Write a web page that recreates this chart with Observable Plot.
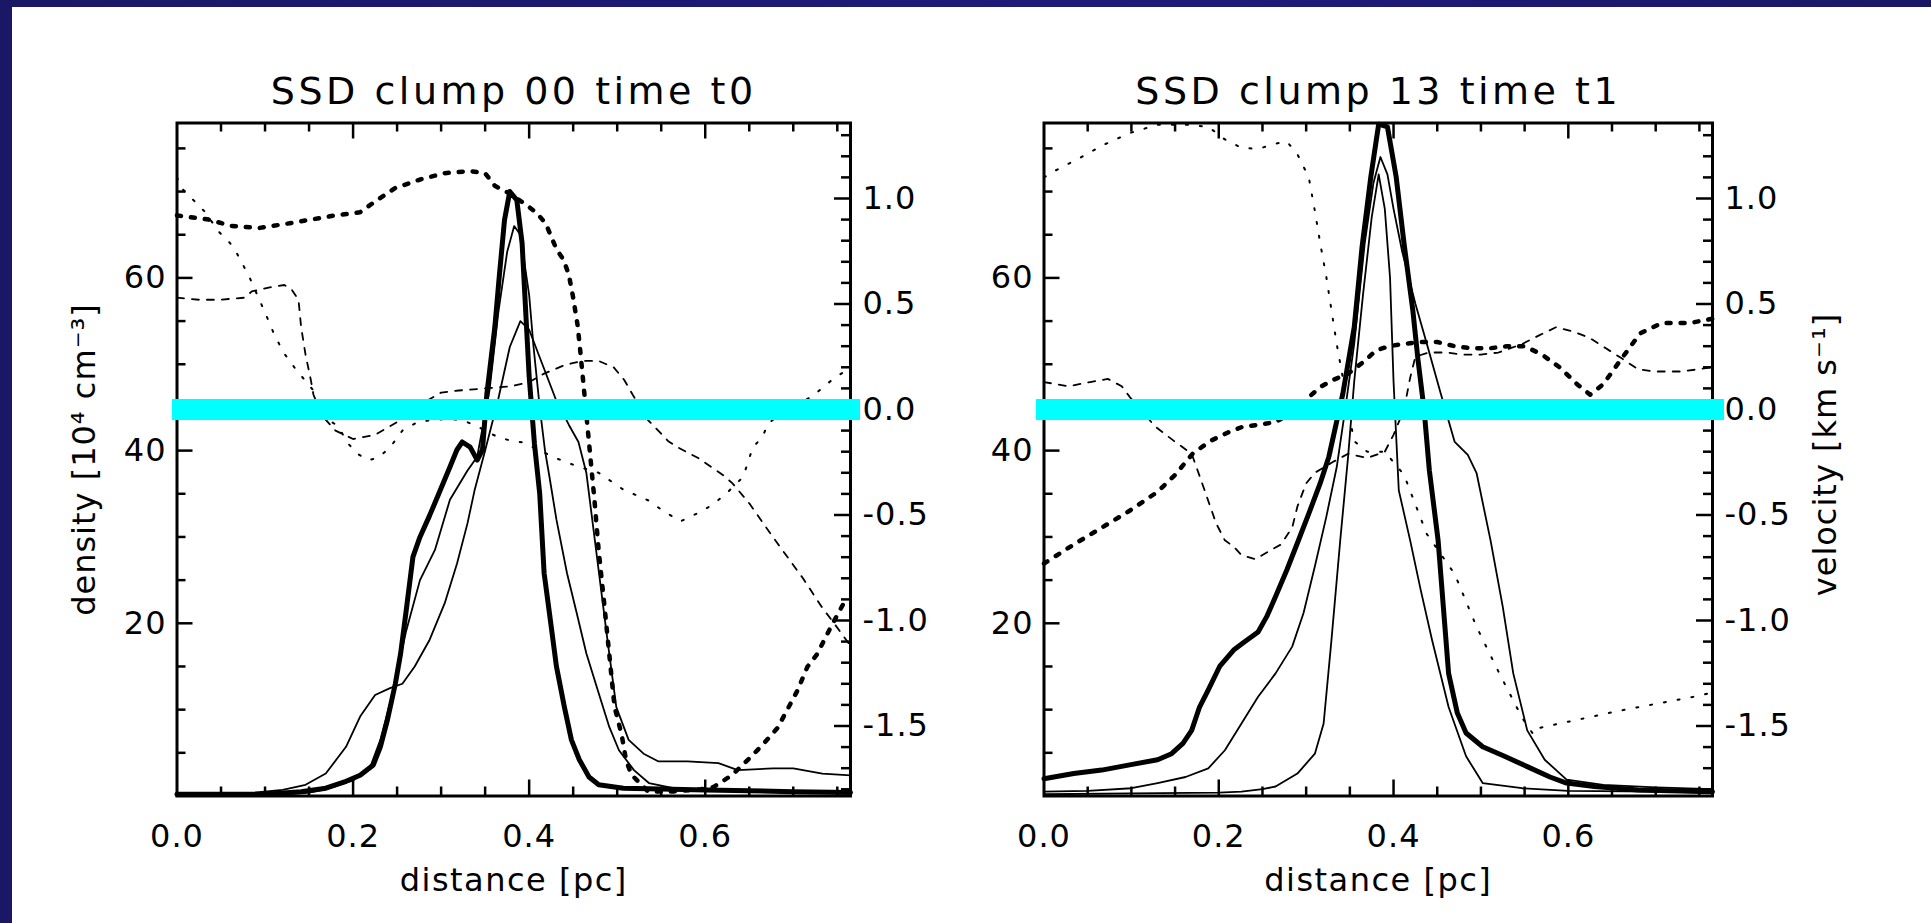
<!DOCTYPE html>
<html><head><meta charset="utf-8">
<script src="https://cdn.jsdelivr.net/npm/d3@7"></script>
<script src="https://cdn.jsdelivr.net/npm/@observablehq/plot@0.6"></script>
<style>
html,body{margin:0;padding:0;background:#fff;}
#page{position:relative;width:1931px;height:923px;overflow:hidden;background:#fff;}
.panel{position:absolute;top:0;}
.panel svg{position:absolute;left:0;top:0;}
.navy-left{position:absolute;left:0;top:0;width:12px;height:923px;background:#1a1866;z-index:10}
.navy-top{position:absolute;left:0;top:0;width:1931px;height:7px;background:linear-gradient(90deg,#1a1866,#1d1c7a 60%,#1a1866);z-index:10}
</style></head><body><div id="page"><div class="navy-left"></div><div class="navy-top"></div></div>
<script>
// ---------- text ----------
const titles = ["SSD clump 00 time t0", "SSD clump 13 time t1"];
const xTitle = "distance [pc]";
const densityTitle = "density [10⁴ cm⁻³]";
const velocityTitle = "velocity [km s⁻¹]";
const xTickLabels = [0.0, 0.2, 0.4, 0.6];
const densityTickLabels = [20, 40, 60];
const velocityTickLabels = [1.0, 0.5, 0.0, -0.5, -1.0, -1.5];

// ---------- panel A (clump 00, t0) ----------
const aDistThick = [0, 0.05, 0.1, 0.141, 0.169, 0.192, 0.208, 0.223, 0.231, 0.239, 0.248, 0.254, 0.26, 0.268, 0.276, 0.287, 0.299, 0.31, 0.318, 0.324, 0.333, 0.341, 0.347, 0.352, 0.361, 0.366, 0.372, 0.378, 0.386, 0.392, 0.395, 0.4, 0.406, 0.412, 0.417, 0.423, 0.431, 0.44, 0.448, 0.457, 0.468, 0.479, 0.507, 0.55, 0.6, 0.65, 0.7, 0.765];
const aDensThick = [0.2, 0.2, 0.2, 0.5, 0.9, 1.7, 2.4, 3.6, 5.7, 8.8, 13.0, 16.5, 21.2, 27.7, 30.0, 32.5, 35.4, 38.1, 40.1, 41.0, 40.4, 38.9, 40.1, 46.6, 54.3, 60.1, 66.7, 70.0, 69.0, 64.0, 58.2, 48.6, 40.8, 35.0, 25.8, 21.2, 15.0, 10.3, 6.5, 4.2, 2.2, 1.3, 0.9, 0.8, 0.7, 0.6, 0.5, 0.4];
const aDistMed = [0, 0.1, 0.12, 0.15, 0.17, 0.2, 0.22, 0.231, 0.245, 0.26, 0.276, 0.293, 0.31, 0.33, 0.341, 0.355, 0.365, 0.375, 0.383, 0.39, 0.4, 0.405, 0.412, 0.418, 0.423, 0.431, 0.443, 0.454, 0.465, 0.479, 0.491, 0.502, 0.519, 0.536, 0.564, 0.6, 0.7, 0.765];
const aDensMed = [0.1, 0.1, 0.2, 0.4, 0.8, 1.8, 3.5, 6.5, 12, 19, 25, 28.5, 34.3, 37.7, 39.3, 47, 56, 63, 66, 65, 58, 52, 45, 40, 37, 32, 25.8, 21.2, 16.5, 11.9, 8.0, 5.3, 3.0, 1.5, 0.9, 0.6, 0.5, 0.4];
const aDistThin = [0, 0.08, 0.12, 0.146, 0.169, 0.192, 0.208, 0.225, 0.242, 0.256, 0.27, 0.287, 0.304, 0.318, 0.33, 0.338, 0.35, 0.365, 0.378, 0.39, 0.4, 0.415, 0.43, 0.445, 0.456, 0.465, 0.476, 0.488, 0.499, 0.513, 0.53, 0.547, 0.58, 0.615, 0.637, 0.677, 0.7, 0.733, 0.765];
const aDensThin = [0.1, 0.3, 0.7, 1.3, 2.6, 5.7, 9.2, 11.7, 12.5, 13.0, 15.0, 18.1, 22.3, 26.9, 31.6, 35.4, 40, 46, 52, 55, 54, 50, 46, 43, 41, 37.4, 28.5, 18.8, 10.3, 6.5, 4.9, 4.0, 4.0, 3.8, 3.0, 3.2, 3.2, 2.6, 2.4];
const aDistVThick = [0, 0.036, 0.062, 0.093, 0.124, 0.152, 0.18, 0.208, 0.223, 0.248, 0.276, 0.304, 0.333, 0.35, 0.361, 0.375, 0.395, 0.409, 0.419, 0.431, 0.439, 0.445, 0.45, 0.455, 0.458, 0.461, 0.466, 0.471, 0.474, 0.479, 0.485, 0.491, 0.497, 0.505, 0.51, 0.516, 0.535, 0.564, 0.595, 0.609, 0.617, 0.631, 0.651, 0.665, 0.682, 0.691, 0.705, 0.716, 0.727, 0.744, 0.761];
const aVelThick = [0.92, 0.9, 0.87, 0.86, 0.88, 0.9, 0.92, 0.935, 0.98, 1.05, 1.09, 1.12, 1.13, 1.12, 1.06, 1.03, 0.975, 0.93, 0.88, 0.76, 0.71, 0.64, 0.53, 0.4, 0.28, 0.15, -0.07, -0.29, -0.42, -0.67, -0.91, -1.16, -1.41, -1.54, -1.66, -1.73, -1.81, -1.81, -1.8, -1.79, -1.77, -1.73, -1.65, -1.59, -1.51, -1.44, -1.33, -1.22, -1.16, -1.02, -0.89];
const aDistVDot = [0, 0.005, 0.031, 0.048, 0.06, 0.068, 0.082, 0.102, 0.11, 0.121, 0.135, 0.155, 0.169, 0.183, 0.194, 0.205, 0.217, 0.228, 0.242, 0.256, 0.273, 0.29, 0.307, 0.324, 0.341, 0.364, 0.381, 0.392, 0.41, 0.43, 0.455, 0.479, 0.507, 0.535, 0.552, 0.572, 0.592, 0.609, 0.626, 0.643, 0.654, 0.665, 0.671, 0.69, 0.721, 0.744, 0.765];
const aVelDot = [1.1, 1.05, 0.94, 0.84, 0.79, 0.74, 0.63, 0.44, 0.36, 0.27, 0.19, 0.09, -0.04, -0.08, -0.16, -0.21, -0.24, -0.23, -0.18, -0.1, -0.06, -0.05, -0.045, -0.05, -0.08, -0.13, -0.15, -0.155, -0.19, -0.23, -0.27, -0.3, -0.38, -0.43, -0.48, -0.53, -0.49, -0.45, -0.39, -0.32, -0.18, -0.13, -0.07, 0.0, 0.06, 0.14, 0.2];
const aDistVDash = [0, 0.025, 0.048, 0.077, 0.085, 0.107, 0.122, 0.13, 0.138, 0.141, 0.146, 0.149, 0.152, 0.155, 0.165, 0.18, 0.2, 0.225, 0.25, 0.275, 0.3, 0.32, 0.35, 0.38, 0.4, 0.417, 0.44, 0.46, 0.479, 0.496, 0.508, 0.519, 0.535, 0.558, 0.569, 0.592, 0.606, 0.62, 0.631, 0.651, 0.671, 0.69, 0.711, 0.733, 0.744, 0.765];
const aVelDash = [0.53, 0.52, 0.52, 0.53, 0.56, 0.58, 0.59, 0.57, 0.52, 0.39, 0.26, 0.2, 0.14, 0.07, -0.03, -0.1, -0.14, -0.12, -0.06, 0.02, 0.08, 0.09, 0.1, 0.11, 0.13, 0.17, 0.21, 0.23, 0.23, 0.2, 0.14, 0.06, -0.05, -0.15, -0.18, -0.23, -0.27, -0.31, -0.35, -0.45, -0.57, -0.68, -0.8, -0.94, -1.0, -1.12];

// ---------- panel B (clump 13, t1) ----------
const bDistThick = [0, 0.034, 0.066, 0.098, 0.13, 0.146, 0.159, 0.169, 0.178, 0.188, 0.201, 0.217, 0.23, 0.245, 0.255, 0.265, 0.278, 0.29, 0.303, 0.316, 0.326, 0.342, 0.355, 0.364, 0.374, 0.383, 0.393, 0.403, 0.412, 0.422, 0.428, 0.435, 0.441, 0.451, 0.457, 0.463, 0.473, 0.483, 0.502, 0.527, 0.553, 0.579, 0.598, 0.63, 0.68, 0.765];
const bDensThick = [2.0, 2.6, 3.0, 3.6, 4.2, 4.9, 6.1, 7.6, 10.3, 12.3, 15.0, 16.9, 17.9, 19.0, 20.8, 23.1, 26.2, 29.3, 32.7, 36.2, 39.3, 46.6, 54.3, 63.6, 71.7, 77.8, 77.5, 71.7, 64, 56.3, 50.5, 44.7, 37.7, 29.6, 21.9, 14.2, 9.6, 7.3, 5.7, 4.6, 3.4, 2.2, 1.5, 1.1, 0.7, 0.5];
const bDistBroad = [0, 0.05, 0.1, 0.13, 0.162, 0.188, 0.207, 0.226, 0.245, 0.265, 0.284, 0.297, 0.31, 0.323, 0.335, 0.345, 0.355, 0.367, 0.377, 0.385, 0.393, 0.4, 0.41, 0.425, 0.438, 0.454, 0.47, 0.485, 0.495, 0.511, 0.525, 0.537, 0.553, 0.573, 0.598, 0.64, 0.7, 0.765];
const bDensBroad = [0.5, 0.6, 0.9, 1.5, 2.2, 3.2, 5.3, 8.4, 11.5, 14.2, 17.3, 21.2, 26.6, 32.3, 38.1, 45, 52.4, 64, 71, 74, 72, 68, 63, 57, 52.4, 46.6, 41, 39.5, 37.4, 29.6, 21.9, 14.2, 7.6, 4.2, 1.9, 1.3, 1.0, 0.8];
const bDistNarrow = [0, 0.1, 0.2, 0.226, 0.25, 0.265, 0.29, 0.31, 0.32, 0.329, 0.339, 0.348, 0.355, 0.365, 0.375, 0.383, 0.39, 0.396, 0.4, 0.406, 0.419, 0.431, 0.444, 0.463, 0.483, 0.502, 0.547, 0.6, 0.7, 0.765];
const bDensNarrow = [0.2, 0.3, 0.4, 0.5, 0.8, 1.1, 2.6, 4.9, 8.4, 18.1, 29.6, 39.3, 48, 58, 67, 72, 68, 60, 48, 35.4, 29.6, 23.9, 18.1, 10.3, 4.6, 1.5, 0.9, 0.6, 0.5, 0.4];
const bDistVThick = [0, 0.034, 0.066, 0.098, 0.13, 0.15, 0.17, 0.19, 0.21, 0.226, 0.265, 0.29, 0.303, 0.316, 0.329, 0.348, 0.367, 0.38, 0.395, 0.41, 0.43, 0.45, 0.47, 0.49, 0.51, 0.53, 0.55, 0.57, 0.59, 0.61, 0.625, 0.64, 0.659, 0.682, 0.707, 0.739, 0.765];
const bVelThick = [-0.73, -0.64, -0.56, -0.48, -0.39, -0.31, -0.21, -0.15, -0.11, -0.084, -0.06, 0.0, 0.058, 0.106, 0.137, 0.17, 0.23, 0.28, 0.3, 0.31, 0.32, 0.32, 0.3, 0.29, 0.29, 0.3, 0.3, 0.26, 0.2, 0.12, 0.07, 0.12, 0.23, 0.36, 0.41, 0.41, 0.43];
const bDistVDot = [0, 0.012, 0.04, 0.066, 0.098, 0.13, 0.162, 0.188, 0.207, 0.226, 0.245, 0.265, 0.278, 0.29, 0.303, 0.31, 0.316, 0.323, 0.329, 0.335, 0.342, 0.348, 0.355, 0.37, 0.39, 0.412, 0.438, 0.47, 0.495, 0.521, 0.547, 0.56, 0.566, 0.611, 0.656, 0.707, 0.752, 0.765];
const bVelDot = [1.1, 1.13, 1.19, 1.25, 1.31, 1.35, 1.35, 1.34, 1.28, 1.24, 1.235, 1.26, 1.27, 1.21, 1.1, 0.94, 0.79, 0.63, 0.47, 0.31, 0.15, 0.0, -0.15, -0.2, -0.2, -0.31, -0.59, -0.78, -1.03, -1.25, -1.46, -1.54, -1.51, -1.47, -1.43, -1.39, -1.355, -1.34];
const bDistVDash = [0, 0.028, 0.053, 0.073, 0.089, 0.098, 0.127, 0.149, 0.169, 0.181, 0.197, 0.207, 0.217, 0.226, 0.242, 0.258, 0.271, 0.284, 0.29, 0.3, 0.31, 0.33, 0.348, 0.37, 0.39, 0.4, 0.412, 0.419, 0.425, 0.44, 0.46, 0.48, 0.5, 0.52, 0.547, 0.566, 0.586, 0.605, 0.624, 0.643, 0.662, 0.68, 0.7, 0.73, 0.765];
const bVelDash = [0.13, 0.11, 0.13, 0.145, 0.11, 0.06, -0.08, -0.15, -0.21, -0.35, -0.54, -0.62, -0.65, -0.69, -0.71, -0.67, -0.64, -0.56, -0.46, -0.35, -0.3, -0.25, -0.21, -0.23, -0.2, -0.12, 0.0, 0.15, 0.25, 0.27, 0.27, 0.26, 0.26, 0.27, 0.31, 0.35, 0.39, 0.37, 0.34, 0.29, 0.24, 0.19, 0.18, 0.18, 0.2];

// ---------- layout ----------
const FONT = "'DejaVu Sans', 'Liberation Sans', sans-serif";
const H = 923, MT = 122.5, MB = 127.5, FH = H - MT - MB;
const xDomain = [0, 0.765];
const dDomain = [0, 77.94];
const vDomain = [-1.8318, 1.3578];
const zip = (xs, ys) => xs.map((x, i) => ({x, y: ys[i]}));
const fmt1 = v => (v < 0 ? "-" : "") + Math.abs(v).toFixed(1);

const xMinor = d3.range(1, 16).map(k => +(k * 0.05).toFixed(2)).filter(v => !xTickLabels.includes(v));
const xMajorInner = xTickLabels.filter(v => v > 0);
const dMinor = d3.range(5, 78, 5).filter(v => v % 20 !== 0);
const vMinor = d3.range(-18, 14).map(k => k / 10).filter(v => Math.abs(v * 2 - Math.round(v * 2)) > 1e-9);

const SOLID_THICK = {stroke: "black", strokeWidth: 5, strokeLinejoin: "round"};
const SOLID_THIN = {stroke: "black", strokeWidth: 1.8, strokeLinejoin: "round"};
const DOT_THICK = {stroke: "black", strokeWidth: 4.5, strokeDasharray: "4,10"};
const DOT_THIN = {stroke: "black", strokeWidth: 2, strokeDasharray: "2,12"};
const DASH_THIN = {stroke: "black", strokeWidth: 1.8, strokeDasharray: "7,8"};

const panels = [
  {left: 0, width: 960, ml: 176.5, mr: 110, title: titles[0], densLabel: true, velLabel: false,
   cyanL: -4.5, cyanR: -10,
   dens: [[aDistThick, aDensThick, SOLID_THICK], [aDistMed, aDensMed, SOLID_THIN], [aDistThin, aDensThin, SOLID_THIN]],
   vel: [[aDistVThick, aVelThick, DOT_THICK], [aDistVDot, aVelDot, DOT_THIN], [aDistVDash, aVelDash, DASH_THIN]]},
  {left: 960, width: 971, ml: 83.5, mr: 219, title: titles[1], densLabel: false, velLabel: true,
   cyanL: -7.5, cyanR: -12,
   dens: [[bDistThick, bDensThick, SOLID_THICK], [bDistBroad, bDensBroad, SOLID_THIN], [bDistNarrow, bDensNarrow, SOLID_THIN]],
   vel: [[bDistVThick, bVelThick, DOT_THICK], [bDistVDot, bVelDot, DOT_THIN], [bDistVDash, bVelDash, DASH_THIN]]}
];

const page = document.getElementById("page");
for (const p of panels) {
  const FW = p.width - p.ml - p.mr;
  const common = {width: p.width, height: H, marginLeft: p.ml, marginRight: p.mr, marginTop: MT, marginBottom: MB,
    x: {domain: xDomain, axis: null},
    style: {background: "transparent", overflow: "visible", fontFamily: FONT, color: "black"}};
  const tk = {stroke: "black", strokeWidth: 2.5};
  const txt = {fill: "black", fontFamily: FONT, lineAnchor: "middle"};

  const densMarks = [
    ...p.dens.map(([xs, ys, st]) => Plot.line(zip(xs, ys), {x: "x", y: "y", ...st})),
    Plot.frame({stroke: "black", strokeWidth: 3}),
    Plot.tickX(xMinor, {x: d => d, insetTop: FH - 9, ...tk}),
    Plot.tickX(xMajorInner, {x: d => d, insetTop: FH - 16, ...tk}),
    Plot.tickX(xMinor, {x: d => d, insetBottom: FH - 9, ...tk}),
    Plot.tickX(xMajorInner, {x: d => d, insetBottom: FH - 16, ...tk}),
    Plot.tickY(dMinor, {y: d => d, insetRight: FW - 9, ...tk}),
    Plot.tickY(densityTickLabels, {y: d => d, insetRight: FW - 16, ...tk}),
    Plot.text(xTickLabels, {x: d => d, frameAnchor: "bottom", dy: 40.5, textAnchor: "middle", text: d => d.toFixed(1), fontSize: 32, ...txt}),
    Plot.text(densityTickLabels, {y: d => d, frameAnchor: "left", dx: -10.5, textAnchor: "end", text: d => String(d), fontSize: 32, ...txt}),
    Plot.text([p.title], {frameAnchor: "top", dy: -31.5, textAnchor: "middle", fontSize: 38, ...txt}),
    Plot.text([xTitle], {frameAnchor: "bottom", dy: 84.5, textAnchor: "middle", fontSize: 32, ...txt})
  ];
  if (p.densLabel) densMarks.push(Plot.text([densityTitle], {frameAnchor: "left", dx: -92.5, textAnchor: "middle", rotate: -90, fontSize: 32, ...txt}));
  const dens = Plot.plot({...common, y: {domain: dDomain, axis: null}, marks: densMarks});

  const velMarks = [
    ...p.vel.map(([xs, ys, st]) => Plot.line(zip(xs, ys), {x: "x", y: "y", ...st})),
    Plot.tickY(vMinor, {y: d => d, insetLeft: FW - 9, ...tk}),
    Plot.tickY(velocityTickLabels, {y: d => d, insetLeft: FW - 16, ...tk}),
    Plot.text(velocityTickLabels, {y: d => d, frameAnchor: "right", dx: 12, textAnchor: "start", text: fmt1, fontSize: 32, ...txt})
  ];
  if (p.velLabel) velMarks.push(Plot.text([velocityTitle], {frameAnchor: "right", dx: 113, dy: -5, textAnchor: "middle", rotate: -90, fontSize: 32, ...txt}));
  velMarks.push(Plot.ruleY([0], {stroke: "#00ffff", strokeWidth: 21, insetLeft: p.cyanL, insetRight: p.cyanR}));
  const vel = Plot.plot({...common, y: {domain: vDomain, axis: null}, marks: velMarks});

  for (const svg of [dens, vel]) {
    const s = d3.select(svg);
    s.selectAll("text").style("letter-spacing", "1px");
    s.selectAll("text").filter(function () { return this.textContent.startsWith("SSD"); }).style("letter-spacing", "3.5px");
    s.selectAll("text").filter(function () { return this.textContent === xTitle; }).style("letter-spacing", "1.5px");
  }
  const div = document.createElement("div");
  div.className = "panel";
  div.style.left = p.left + "px";
  div.style.width = p.width + "px";
  div.style.height = H + "px";
  div.appendChild(dens);
  div.appendChild(vel);
  page.appendChild(div);
}
</script></body></html>
